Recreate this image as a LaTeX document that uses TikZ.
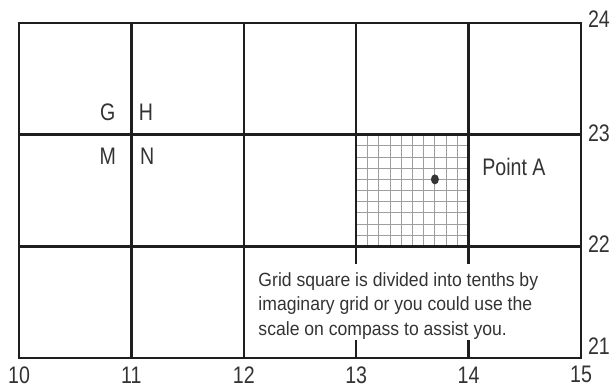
\documentclass[tikz,border=0pt]{standalone}
\usepackage{fontspec}
\setmainfont{Liberation Sans}
\newfontfamily\lblfont[FakeStretch=0.82]{Liberation Sans}
\newfontfamily\notefont[FakeStretch=0.92]{Liberation Sans}
\usepackage{tikz}
\usetikzlibrary{
  positioning,
  shapes.geometric
}
\definecolor{mapInk}{HTML}{1E1E1E}
\definecolor{mapText}{HTML}{333333}
\definecolor{mapFine}{HTML}{9E9E9E}

\begin{document}
\begin{tikzpicture}[
  x=2.81cm, y=2.7925cm,
  every node/.style={inner sep=0pt, text=mapText},
  gridline/.style={draw=mapInk, line width=1.7pt},
  fineline/.style={draw=mapFine, line width=0.6pt},
  cellmark/.style={font=\lblfont\fontsize{17}{20}\selectfont},
  eastlbl/.style={cellmark, anchor=west},
  southlbl/.style={cellmark, anchor=center},
  note/.style={
    font=\notefont\fontsize{13.6}{17.4}\selectfont,
    align=left, anchor=north west
  },
  ptdot/.style={
    ellipse, fill=mapInk!90,
    minimum width=0.2cm, minimum height=0.25cm
  }
]
 \useasboundingbox (9.831,20.740) rectangle (15.267,24.206);

 % Fine grid -- square 13/22 in tenths
 \foreach \k in {1,...,9} {
   \draw[fineline] (13+\k/10,22) -- (13+\k/10,23);
   \draw[fineline] (13,22+\k/10) -- (14,22+\k/10);
 }

 % Main grid
 \draw[gridline] (10,21) rectangle (15,24);
 \draw[gridline] (10,22) -- (15,22); \draw[gridline] (10,23) -- (15,23);
 \draw[gridline] (11,21) -- (11,24); \draw[gridline] (12,21) -- (12,24);
 \foreach \e in {13,14} {
   \draw[gridline] (\e,22) -- (\e,24);
   \draw[gridline] (\e,22) -- (\e,21.84);
   \draw[gridline] (\e,21) -- (\e,21.16);
 }

 % Eastings and northings
 \foreach \e in {10,...,15}
   \node[southlbl] (e\e) at (\e,20.85) {\e};
 \foreach \n/\ny in {21/21.11, 22/22.02, 23/23.01, 24/24.03}
   \node[eastlbl] (n\n) at (15.06,\ny) {\n};

 % Square letters
 \node[cellmark] (G) at (10.79,23.20) {G};
 \node[cellmark] (H) at (11.13,23.20) {H};
 \node[cellmark] (M) at (10.79,22.81) {M};
 \node[cellmark] (N) at (11.14,22.81) {N};

 % Point A
 \node[ptdot] (ptA) at (13.7,22.6) {};
 \node[cellmark, anchor=west] (ptAlbl) at (14.12,22.71) {Point A};

 % Note
 \node[note] (hint) at (12.128,21.771)
   {Grid square is divided into tenths by\\imaginary grid or you could use the\\scale on compass to assist you.};
\end{tikzpicture}
\end{document}
